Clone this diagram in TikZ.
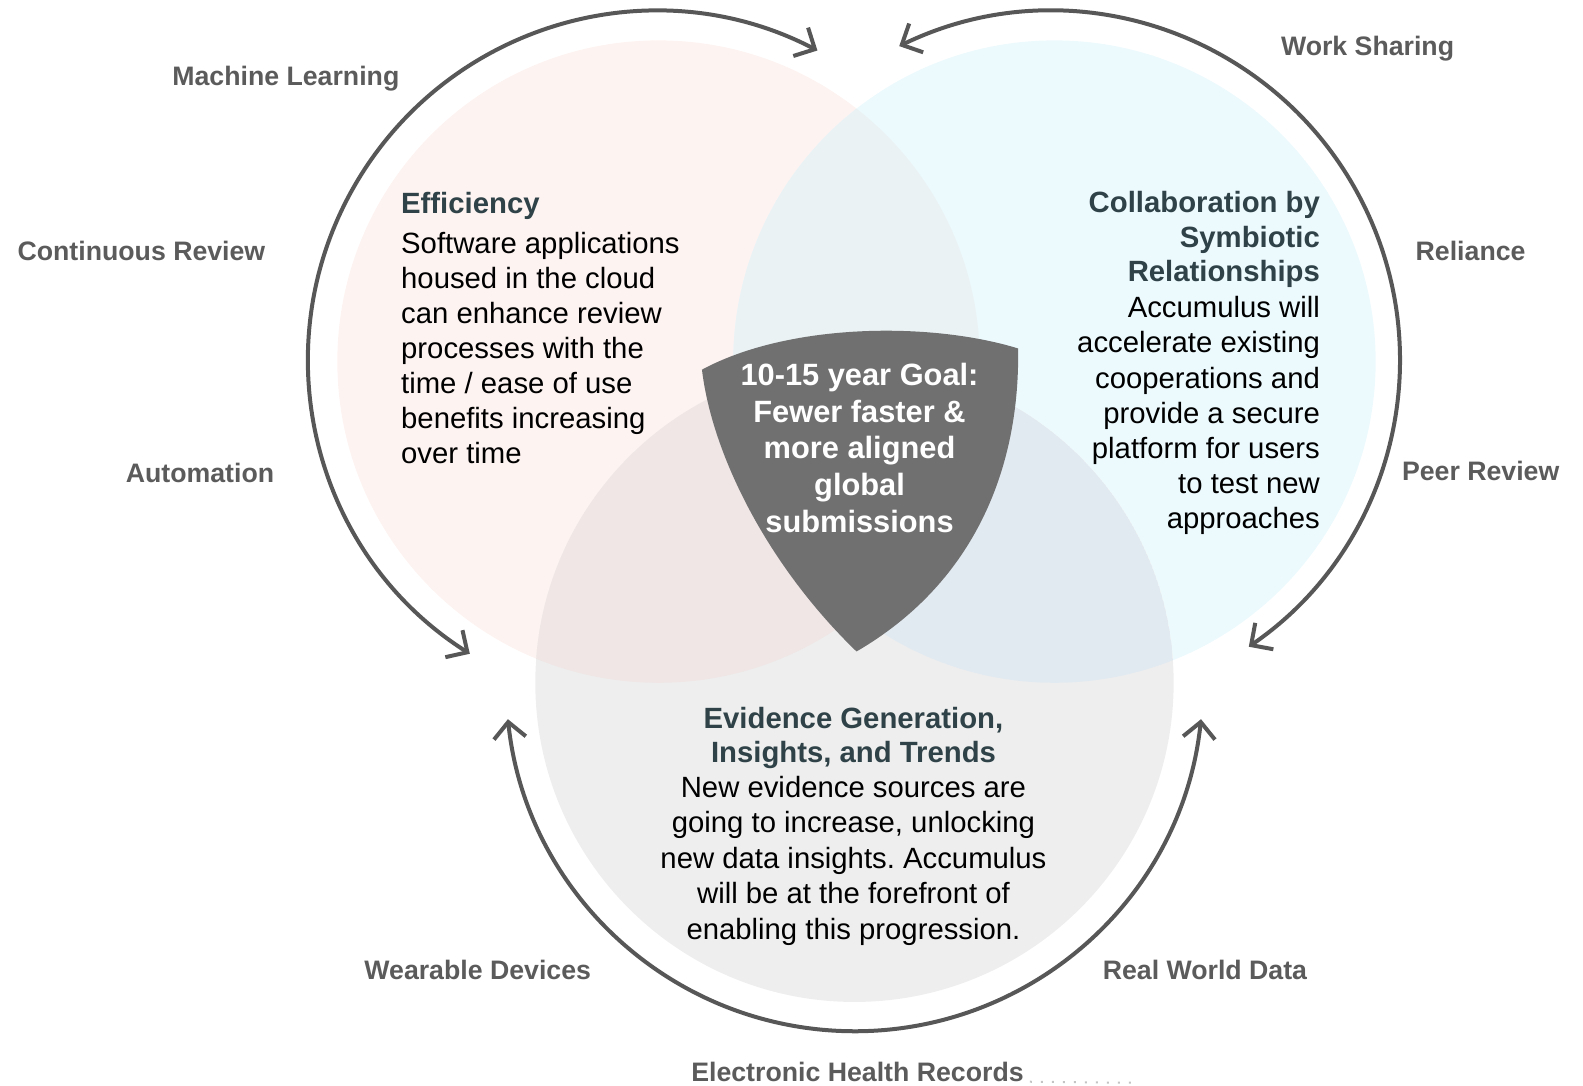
\documentclass[tikz,border=0pt]{standalone}
\usepackage{fontspec}
\setmainfont{Liberation Sans}
\frenchspacing
\usetikzlibrary{arrows.meta,positioning}
\definecolor{effpink}{HTML}{FDF3F1}
\definecolor{colblue}{HTML}{ECF9FD}
\definecolor{evigrey}{HTML}{EEEEEE}
\definecolor{pinkblue}{HTML}{EBF2F4}
\definecolor{pinkgrey}{HTML}{EFE6E5}
\definecolor{bluegrey}{HTML}{E2EAF1}
\definecolor{allthree}{HTML}{E4E6E9}
\definecolor{shieldgrey}{HTML}{707070}
\definecolor{ringgrey}{HTML}{575757}
\definecolor{drivergrey}{HTML}{5B5B5B}
\definecolor{headteal}{HTML}{2F4247}

\begin{document}
\begin{tikzpicture}[x=1.01bp, y=-1.01bp,
   every node/.style={inner sep=0pt},
   driver/.style={font=\fontsize{26.7bp}{30bp}\selectfont\bfseries, text=drivergrey, anchor=base},
   heading/.style={font=\fontsize{29.3bp}{34.4bp}\selectfont\bfseries, text=headteal},
   body/.style={font=\fontsize{29.3bp}{35.05bp}\selectfont},
   goal/.style={font=\fontsize{30.8bp}{36.7bp}\selectfont\bfseries, text=white, align=center, anchor=base},
   cycle arrow/.style={draw=ringgrey, line width=4bp,
       {Straight Barb[length=16bp,width=32bp]}-{Straight Barb[length=16bp,width=32bp]}}]

\useasboundingbox (0,0) rectangle (1567.3,1074.26);

% the three areas and their overlaps
\coordinate (eff) at (652,358);
\coordinate (col) at (1044,358);
\coordinate (evi) at (846,676);
\fill[effpink] (eff) circle (318);
\fill[colblue] (col) circle (318);
\fill[evigrey] (evi) circle (316);
\begin{scope}
  \clip (eff) circle (318);
  \fill[pinkblue] (col) circle (318);
  \fill[pinkgrey] (evi) circle (316);
  \clip (col) circle (318);
  \fill[allthree] (evi) circle (316);
\end{scope}
\begin{scope}
  \clip (col) circle (318);
  \clip (evi) circle (316);
  \fill[bluegrey] (evi) circle (316);
  \clip (eff) circle (318);
  \fill[allthree] (evi) circle (316);
\end{scope}

% cycle arrows
\draw[cycle arrow] (650,356) ++(122.4:345) arc[start angle=122.4, end angle=297.5, radius=345];
\draw[cycle arrow] (1041,356) ++(-115.9:345) arc[start angle=-115.9, end angle=55.5, radius=345];
\draw[cycle arrow] (846,676) ++(6:345) arc[start angle=6, end angle=174, radius=345];

% goal shield
\fill[shieldgrey] (695,366) .. controls (780,320) and (920,318) .. (1008,345)
   .. controls (1010,470) and (960,580) .. (848,645)
   .. controls (760,560) and (705,450) .. cycle;
\node[goal] (goal) at (851,527) {10-15 year Goal:\\Fewer faster \&\\more aligned\\global\\submissions};

% area texts (base = last line)
\node[heading, anchor=base west] (effhead) at (397,211) {Efficiency};
\node[body, align=left, anchor=base west] (effbody) at (397,459)
   {Software applications\\housed in the cloud\\can enhance review\\processes with the\\time / ease of use\\benefits increasing\\over time};

\node[heading, align=right, anchor=base east] (colhead) at (1307,279)
   {Collaboration by\\Symbiotic\\Relationships};
\node[body, align=right, anchor=base east] (colbody) at (1307,523)
   {Accumulus will\\accelerate existing\\cooperations and\\provide a secure\\platform for users\\to test new\\approaches};

\node[heading, align=center, anchor=base] (evihead) at (845,755)
   {Evidence Generation,\\Insights, and Trends};
\node[body, align=center, anchor=base, font=\fontsize{29.3bp}{35.55bp}\selectfont] (evibody) at (845,930)
   {New evidence sources are\\going to increase, unlocking\\new data insights. Accumulus\\will be at the forefront of\\enabling this progression.};

% drivers
\node[driver] (ml) at (283,85) {Machine Learning};
\node[driver] (cr) at (140,258) {Continuous Review};
\node[driver] (auto) at (198,478) {Automation};
\node[driver] (ws) at (1354,55) {Work Sharing};
\node[driver] (rel) at (1456,258) {Reliance};
\node[driver] (pr) at (1466,476) {Peer Review};
\node[driver] (wd) at (473,970) {Wearable Devices};
\node[driver] (rwd) at (1193,970) {Real World Data};
\node[driver] (ehr) at (849,1071) {Electronic Health Records};
\coordinate (ehr end) at (1120,1072);
\draw[ringgrey!35, line width=2bp, dash pattern=on 2bp off 9bp] ([xshift=6bp]ehr.base east) -- (ehr end);

\end{tikzpicture}
\end{document}
